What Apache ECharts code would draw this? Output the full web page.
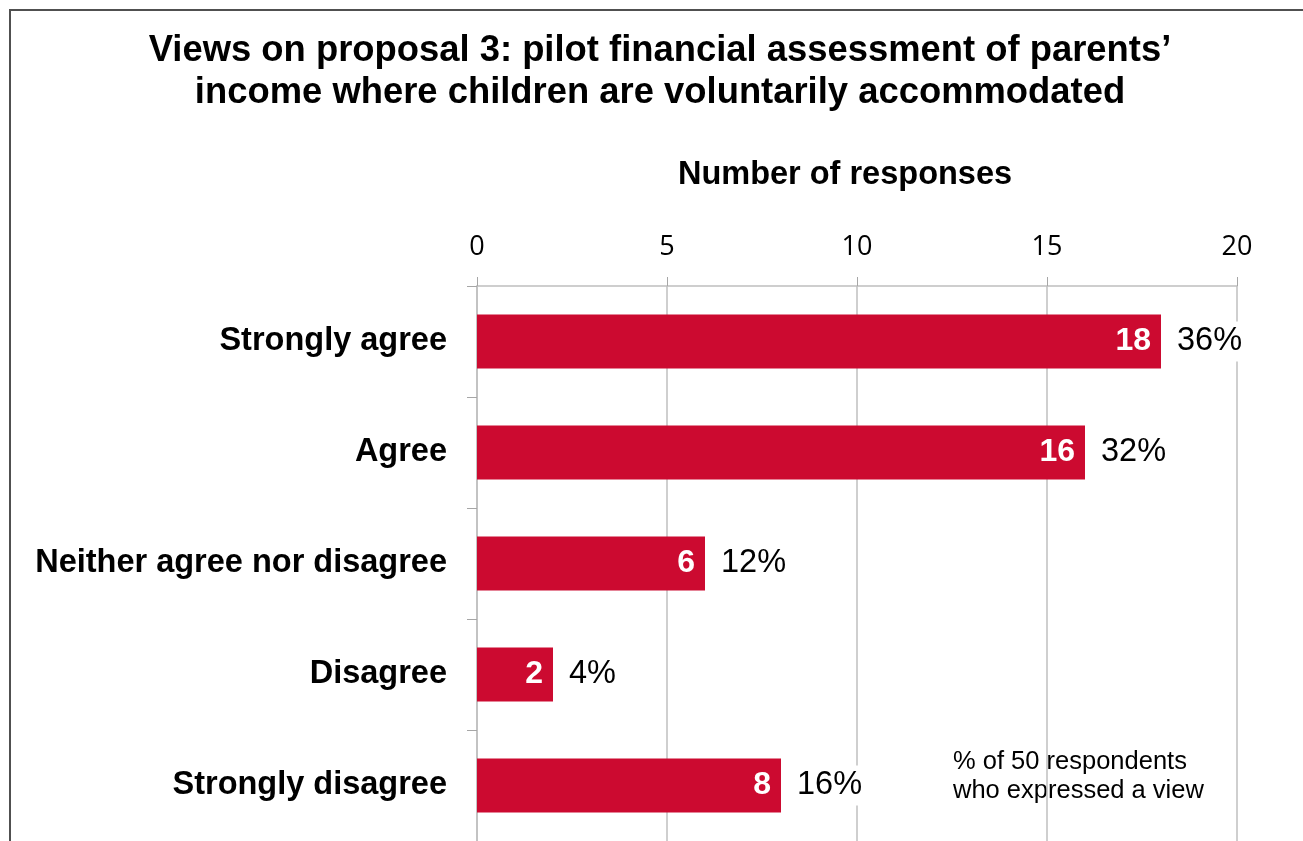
<!DOCTYPE html>
<html>
<head>
<meta charset="utf-8">
<script src="https://cdn.jsdelivr.net/npm/echarts@6/dist/echarts.min.js"></script>
<style>
  html, body { margin: 0; padding: 0; background: #fff; }
  #chart { width: 1303px; height: 841px; }
</style>
</head>
<body>
<div id="chart"></div>
<script>
// categories, counts and share of 50 respondents
var categories = ['Strongly agree', 'Agree', 'Neither agree nor disagree', 'Disagree', 'Strongly disagree'];
var responses = [18, 16, 6, 2, 8];
var percents = ['36%', '32%', '12%', '4%', '16%'];
var xTicks = [0, 5, 10, 15, 20];

var myChart = echarts.init(document.getElementById('chart'));

myChart.setOption({
  animation: false,
  grid: {
    left: 477,
    right: 66,
    top: 286,
    height: 560,
    containLabel: false
  },
  xAxis: {
    type: 'value',
    position: 'top',
    min: xTicks[0],
    max: xTicks[xTicks.length - 1],
    interval: 5,
    name: 'Number of responses',
    nameLocation: 'middle',
    nameGap: 94,
    nameTextStyle: {
      fontFamily: 'Liberation Sans, Arial, sans-serif',
      fontWeight: 'bold',
      fontSize: 32.5,
      color: '#000',
      padding: [0, 24, 0, 0]
    },
    axisLine: { show: true, lineStyle: { color: '#BFBFBF', width: 1.5 } },
    axisTick: { show: true, length: 9, lineStyle: { color: '#A6A6A6' } },
    axisLabel: {
      fontFamily: 'Open Sans, sans-serif',
      fontSize: 27,
      color: '#000',
      margin: 25
    },
    splitLine: { show: true, lineStyle: { color: '#BFBFBF', width: 1.5 } }
  },
  yAxis: {
    type: 'category',
    inverse: true,
    data: categories,
    axisLine: { show: true, lineStyle: { color: '#BFBFBF', width: 1.5 } },
    axisTick: { show: true, length: 10, lineStyle: { color: '#A6A6A6' } },
    axisLabel: {
      fontFamily: 'Liberation Sans, Arial, sans-serif',
      fontWeight: 'bold',
      fontSize: 32.5,
      color: '#000',
      margin: 30,
      padding: [4, 0, 0, 0]
    }
  },
  series: [
    {
      name: 'count',
      type: 'bar',
      data: responses,
      barWidth: 54,
      itemStyle: { color: '#CC0A30' },
      label: {
        show: true,
        position: 'insideRight',
        distance: 10,
        fontFamily: 'Liberation Sans, Arial, sans-serif',
        fontWeight: 'bold',
        fontSize: 32,
        color: '#fff',
        padding: [3, 0, 0, 0]
      }
    },
    {
      name: 'percent',
      type: 'bar',
      data: responses,
      barWidth: 54,
      barGap: '-100%',
      silent: true,
      itemStyle: { color: 'rgba(0,0,0,0)' },
      label: {
        show: true,
        position: 'right',
        distance: 12,
        formatter: function (p) { return percents[p.dataIndex]; },
        fontFamily: 'Liberation Sans, Arial, sans-serif',
        fontSize: 32.5,
        color: '#000',
        backgroundColor: '#fff',
        padding: [5, 4, 2, 4]
      }
    }
  ],
  graphic: [
    {
      type: 'rect',
      shape: { x: 10, y: 10, width: 1400, height: 900 },
      style: { fill: 'none', stroke: '#505050', lineWidth: 2 },
      silent: true
    },
    {
      // chart title
      type: 'text',
      x: 660,
      y: 30,
      style: {
        text: 'Views on proposal 3: pilot financial assessment of parents\u2019\nincome where children are voluntarily accommodated',
        align: 'center',
        verticalAlign: 'top',
        fontFamily: 'Liberation Sans, Arial, sans-serif',
        fontWeight: 'bold',
        fontSize: 36.4,
        lineHeight: 42,
        fill: '#000'
      }
    },
    {
      type: 'text',
      left: 951,
      top: 743,
      style: {
        text: '% of 50 respondents\nwho expressed a view',
        fontFamily: 'Liberation Sans, Arial, sans-serif',
        fontSize: 25.5,
        lineHeight: 29,
        fill: '#000',
        backgroundColor: '#fff',
        padding: [4, 2]
      }
    }
  ]
});
</script>
</body>
</html>
